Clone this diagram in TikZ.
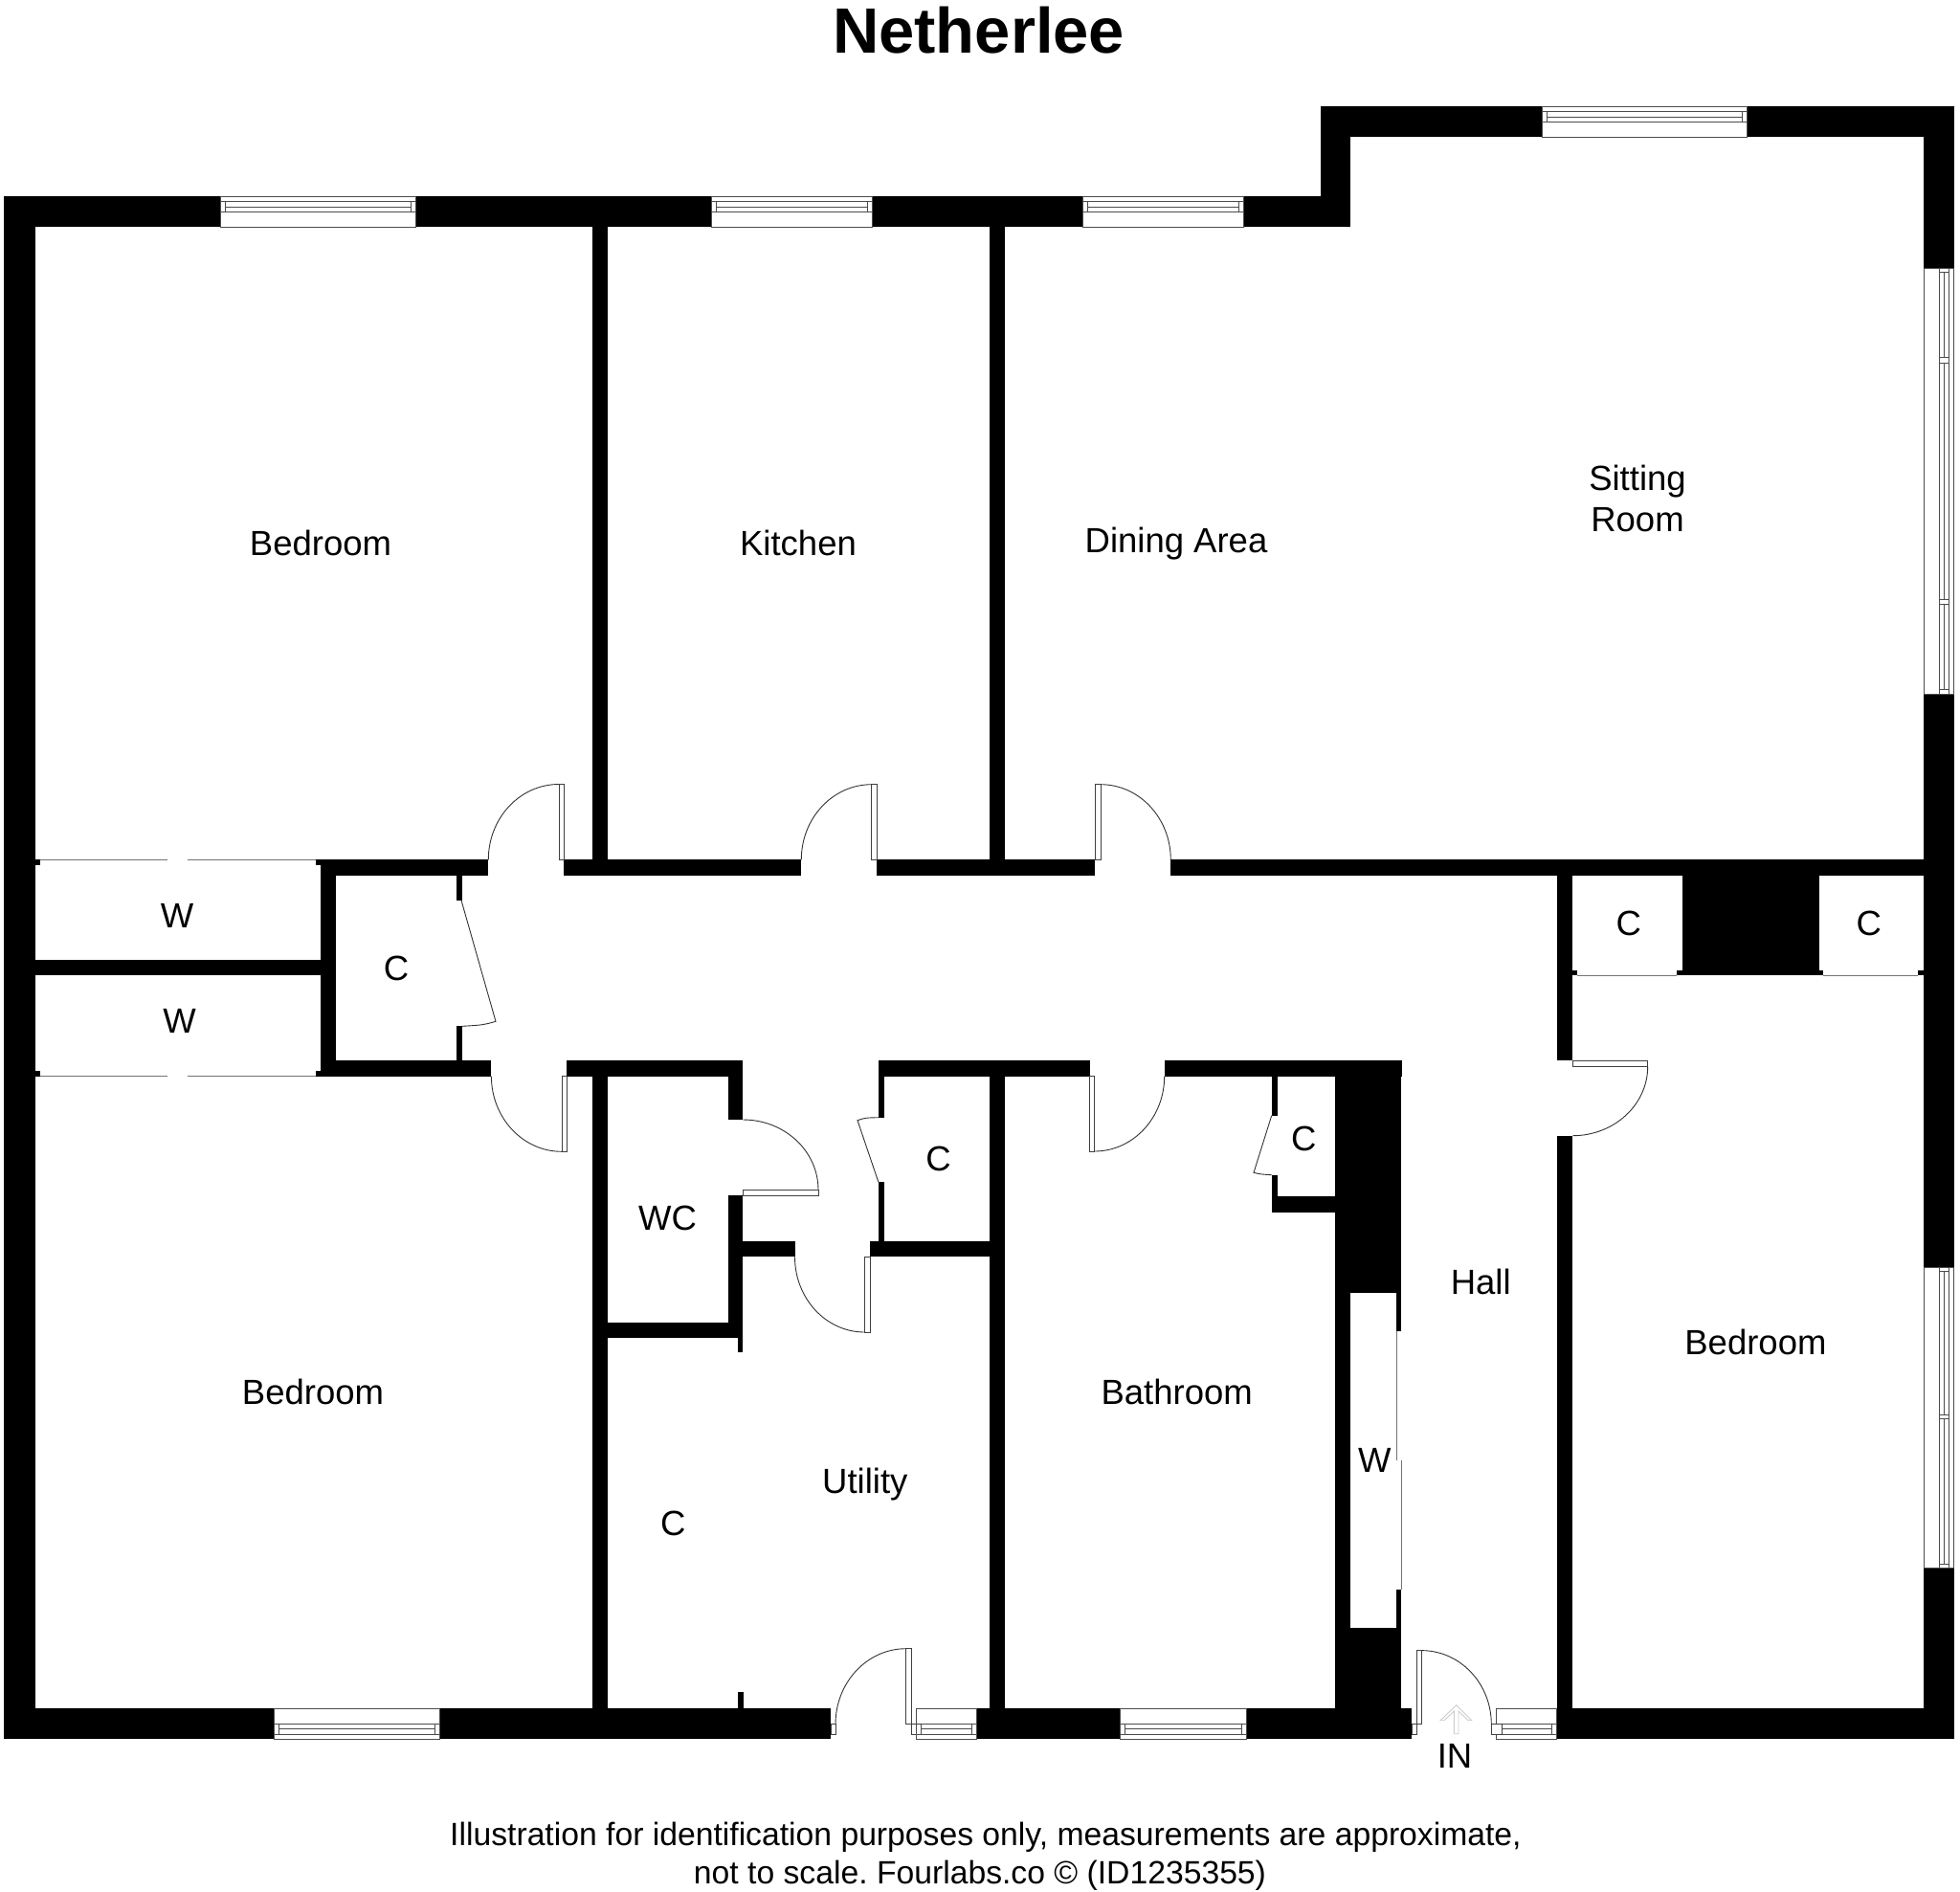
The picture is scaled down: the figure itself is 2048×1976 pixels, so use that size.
\documentclass[tikz,border=0pt]{standalone}
\usepackage{fontspec}
\setmainfont{Liberation Sans}
\tikzset{
    wall/.style={fill=black, draw=none},
    leaf/.style={draw=black!75, fill=white, line width=0.9pt},
    swing/.style={draw=black!80, line width=0.9pt},
    glass/.style={draw=black!70, fill=white, line width=1pt},
    slider/.style={draw=black!55, line width=1pt},
    labeltext/.style={inner sep=0pt, align=center, font=\fontsize{36.5}{43}\selectfont},
    roomlabel/.style={labeltext, text height=26pt, text depth=0pt}
}
\begin{document}
\frenchspacing
\begin{tikzpicture}[x=1pt, y=-1pt]
    \useasboundingbox (0, 0) rectangle (2048, 1976);

    % outer walls
    \fill[wall] (4, 205) rectangle (1411.3, 237);
    \fill[wall] (1379.7, 111) rectangle (1411.3, 237);
    \fill[wall] (1379.7, 111) rectangle (2042, 143);
    \fill[wall] (2010, 111) rectangle (2042, 1817.3);
    \fill[wall] (4, 205) rectangle (36.5, 1817.3);
    \fill[wall] (4, 1785) rectangle (868, 1817.3);
    \fill[wall] (1020, 1785) rectangle (1475.3, 1817.3);
    \fill[wall] (1626.7, 1785) rectangle (2042, 1817.3);

    % room dividers
    \fill[wall] (618.8, 237) rectangle (635, 898.3);
    \fill[wall] (1033.8, 237) rectangle (1049.8, 898.3);
    \fill[wall] (618.8, 1124) rectangle (635, 1785);
    \fill[wall] (1033.8, 1124) rectangle (1049.8, 1785);
    \fill[wall] (1626.7, 915) rectangle (1643.3, 1108.3);
    \fill[wall] (1626.7, 1186.7) rectangle (1643.3, 1785);

    % corridor walls
    \fill[wall] (335, 898.3) rectangle (510.3, 915);
    \fill[wall] (589.3, 898.3) rectangle (837.3, 915);
    \fill[wall] (916, 898.3) rectangle (1144.3, 915);
    \fill[wall] (1223.3, 898.3) rectangle (2010, 915);
    \fill[wall] (335, 1108.3) rectangle (513.4, 1124.5);
    \fill[wall] (592, 1108.3) rectangle (776.4, 1124.5);
    \fill[wall] (917.8, 1108.3) rectangle (1138.5, 1124.5);
    \fill[wall] (1216.7, 1108.3) rectangle (1465, 1124.5);

    % wardrobes and cupboard on the left
    \fill[wall] (335, 915) rectangle (351, 1108.3);
    \fill[wall] (36, 1003) rectangle (335, 1019);
    \fill[wall] (36, 898) rectangle (41.5, 904);
    \fill[wall] (330, 898) rectangle (335, 904);
    \fill[wall] (36, 1118.5) rectangle (41.5, 1124.8);
    \fill[wall] (330, 1118.5) rectangle (335, 1124.8);
    \fill[wall] (476.8, 915) rectangle (483, 940.7);
    \fill[wall] (476.8, 1072.3) rectangle (483, 1108.3);
    \draw[slider] (41.5, 898) -- (175.4, 898);
    \draw[slider] (195.5, 898) -- (330, 898);
    \draw[slider] (41.5, 1124.8) -- (175.4, 1124.8);
    \draw[slider] (195.5, 1124.8) -- (330, 1124.8);

    % WC and lobby
    \fill[wall] (761, 1124) rectangle (776.4, 1170);
    \fill[wall] (761, 1249.3) rectangle (776.4, 1381.7);
    \fill[wall] (618.8, 1381.7) rectangle (776.4, 1397.7);
    \fill[wall] (771, 1397.7) rectangle (776.4, 1412.7);
    \fill[wall] (770.7, 1768) rectangle (776.7, 1785);
    \fill[wall] (761, 1297.3) rectangle (830.5, 1313.3);
    \fill[wall] (909.2, 1297.3) rectangle (1049.8, 1313.3);
    \fill[wall] (917.8, 1124) rectangle (924, 1167.7);
    \fill[wall] (917.8, 1235) rectangle (924, 1297.3);

    % bathroom cupboard, chimney block and hall wardrobe
    \fill[wall] (1328.7, 1124) rectangle (1334.5, 1165.7);
    \fill[wall] (1328.7, 1227.7) rectangle (1334.5, 1250);
    \fill[wall] (1328.7, 1250) rectangle (1395.4, 1266.7);
    \fill[wall] (1395.4, 1108.3) rectangle (1464.4, 1351);
    \fill[wall] (1395.4, 1351) rectangle (1411.4, 1785);
    \fill[wall] (1395.4, 1701.4) rectangle (1464.4, 1785);
    \fill[wall] (1458.6, 1351) rectangle (1464.4, 1391.4);
    \fill[wall] (1458.6, 1660.7) rectangle (1464.4, 1701.4);
    \draw[slider] (1459, 1391.4) -- (1459, 1525.7);
    \draw[slider] (1464.2, 1525.7) -- (1464.2, 1660.7);

    % cupboards at the top of the right bedroom
    \fill[wall] (1758, 915) rectangle (1900.7, 1014.3);
    \fill[wall] (1626.7, 1014.3) rectangle (1648.3, 1019.3);
    \fill[wall] (1752.3, 1014.3) rectangle (1905.3, 1019.3);
    \fill[wall] (2004, 1014.3) rectangle (2010, 1019.3);
    \draw[slider] (1648.3, 1019.3) -- (1752.3, 1019.3);
    \draw[slider] (1905.3, 1019.3) -- (2004, 1019.3);

    % windows, along the top and along the bottom
    \foreach \xa/\xb/\ya in {230/434/205, 743/911.6/205, 1131/1299.5/205, 1611.3/1825.8/111} {
        \draw[glass] (\xa, \ya) rectangle (\xb, \ya+32);
        \draw[glass] (\xa, \ya+5.7) rectangle (\xb, \ya+16);
        \draw[glass] (\xa+5, \ya+5.7) rectangle (\xb-5, \ya+11);
        \draw[glass] (\xa+5, \ya+11) rectangle (\xb-5, \ya+16);
    }
    \foreach \xa/\xb/\ya in {286.7/459/1817.3, 1170/1302/1817.3, 957.3/1020/1817.3, 1563.3/1626.7/1817.3} {
        \draw[glass] (\xa, \ya) rectangle (\xb, \ya-32.3);
        \draw[glass] (\xa, \ya-5) rectangle (\xb, \ya-16);
        \draw[glass] (\xa+5, \ya-5) rectangle (\xb-5, \ya-10.6);
        \draw[glass] (\xa+5, \ya-10.6) rectangle (\xb-5, \ya-16);
    }

    % windows on the right wall
    \draw[glass] (2010, 280) rectangle (2041.7, 725);
    \draw[glass] (2026, 280) rectangle (2036.7, 725);
    \foreach \ya/\yb in {280/284.3, 373.3/379, 626/631.3, 720/725} {
        \draw[glass] (2026, \ya) rectangle (2036.7, \yb);
    }
    \foreach \ya/\yb in {284.3/373.3, 379/626, 631.3/720} {
        \draw[glass] (2031.3, \ya) -- (2031.3, \yb);
    }
    \draw[glass] (2010, 1324) rectangle (2041.7, 1638);
    \draw[glass] (2026, 1324) rectangle (2036.7, 1638);
    \foreach \ya/\yb in {1324/1328, 1478.6/1482, 1634/1638} {
        \draw[glass] (2026, \ya) rectangle (2036.7, \yb);
    }
    \foreach \ya/\yb in {1328/1478.6, 1482/1634} {
        \draw[glass] (2031.3, \ya) -- (2031.3, \yb);
    }

    % doors
    \draw[leaf] (584, 819.5) rectangle (589.3, 898.3);
    \draw[swing] (510.3, 898.3) arc[x radius=73.7, y radius=78.8, start angle=180, end angle=270];

    \draw[leaf] (910.7, 819.7) rectangle (916, 898.3);
    \draw[swing] (837.3, 898.3) arc[x radius=73.4, y radius=78.6, start angle=180, end angle=270];

    \draw[leaf] (1144.3, 819.7) rectangle (1150, 898.3);
    \draw[swing] (1150, 819.7) arc[x radius=73.3, y radius=78.6, start angle=270, end angle=360];

    \draw[leaf] (587, 1124.5) rectangle (592, 1203.3);
    \draw[swing] (513.4, 1124.5) arc[x radius=73.6, y radius=78.8, start angle=180, end angle=90];

    \draw[leaf] (776.4, 1243.3) rectangle (855, 1249.3);
    \draw[swing] (776.4, 1170) arc[x radius=78.6, y radius=73.3, start angle=270, end angle=360];

    \draw[leaf] (903.4, 1313.3) rectangle (909.2, 1392);
    \draw[swing] (830.5, 1313.3) arc[x radius=72.9, y radius=78.7, start angle=180, end angle=90];

    \draw[leaf] (1138.5, 1124.5) rectangle (1143.7, 1203);
    \draw[swing] (1143.7, 1203) arc[x radius=73, y radius=78.5, start angle=90, end angle=0];

    \draw[leaf] (1643.3, 1108.3) rectangle (1721.7, 1114.3);
    \draw[swing] (1721.7, 1114.3) arc[x radius=78.4, y radius=72.4, start angle=0, end angle=90];

    % outside doors
    \draw[leaf] (946.7, 1722.7) rectangle (952, 1801.7);
    \draw[leaf] (868, 1801.7) rectangle (873, 1812);
    \draw[leaf] (952, 1801.7) -- (952, 1812) -- (957.3, 1812);
    \draw[leaf] (946.7, 1801.7) -- (962.7, 1801.7);
    \draw[swing] (873, 1801.7) arc[x radius=73.7, y radius=79, start angle=180, end angle=270];

    \draw[leaf] (1480, 1724.6) rectangle (1485.3, 1801.7);
    \draw[leaf] (1475.3, 1801.7) rectangle (1480, 1812.3);
    \draw[leaf] (1558.3, 1801.7) rectangle (1569.3, 1812.3);
    \draw[swing] (1485.3, 1724.6) arc[x radius=73, y radius=77.1, start angle=270, end angle=360];

    % cupboard doors
    \draw[swing] (482, 940.7) -- (518, 1067.3) .. controls (505, 1071) .. (483, 1072.3);
    \draw[swing] (917.8, 1235) -- (896, 1170.7) .. controls (904, 1168) .. (917.8, 1167.7);
    \draw[swing] (1328.7, 1165.7) -- (1310, 1225.3) .. controls (1317, 1227) .. (1328.7, 1227.7);

    % entrance arrow
    \draw[draw=black!20, line width=0.9pt] (1521.7, 1781.7) -- (1537.7, 1797.7) -- (1534, 1797.7) -- (1524, 1788)
        -- (1524, 1811.7) -- (1519.3, 1811.7) -- (1519.3, 1788) -- (1509, 1797.7) -- (1505, 1797.7) -- cycle;

    % labels
    \node[font=\fontsize{66.9}{70}\selectfont\bfseries, inner sep=0pt] (title) at (1022.6, 32) {Netherlee};

    \node[roomlabel] (bedroomtop) at (335, 567.5) {Bedroom};
    \node[roomlabel] (kitchen) at (834, 567.5) {Kitchen};
    \node[roomlabel] (dining) at (1229, 564) {Dining Area};
    \node[labeltext] (sitting) at (1711, 521) {Sitting\\Room};
    \node[roomlabel] (wardrobea) at (185, 956.7) {W};
    \node[roomlabel] (wardrobeb) at (187.5, 1066.7) {W};
    \node[roomlabel] (cupboarda) at (414, 1011.7) {C};
    \node[roomlabel] (bedroomleft) at (327, 1454) {Bedroom};
    \node[roomlabel] (wc) at (697.6, 1272.7) {WC};
    \node[roomlabel] (cupboardb) at (980.6, 1210.7) {C};
    \node[roomlabel] (cupboardc) at (1362.3, 1189.3) {C};
    \node[roomlabel] (hall) at (1547.2, 1339.3) {Hall};
    \node[roomlabel] (cupboardd) at (1701.7, 964.3) {C};
    \node[roomlabel] (cupboarde) at (1952.7, 964.3) {C};
    \node[roomlabel] (bedroomright) at (1834.4, 1402.5) {Bedroom};
    \node[roomlabel] (bathroom) at (1229.7, 1454.3) {Bathroom};
    \node[roomlabel] (wardrobec) at (1436.4, 1525.7) {W};
    \node[roomlabel] (utility) at (903.8, 1547.3) {Utility};
    \node[roomlabel] (cupboardf) at (703.3, 1591.7) {C};
    \node[roomlabel] (entrance) at (1520, 1834.5) {IN};

    \node[labeltext, font=\fontsize{33.7}{40.5}\selectfont] (disclaimer) at (1030, 1940)
        {Illustration for identification purposes only, measurements are approximate,\\not to scale. Fourlabs.co © (ID1235355)\hspace*{12pt}};
\end{tikzpicture}
\end{document}
